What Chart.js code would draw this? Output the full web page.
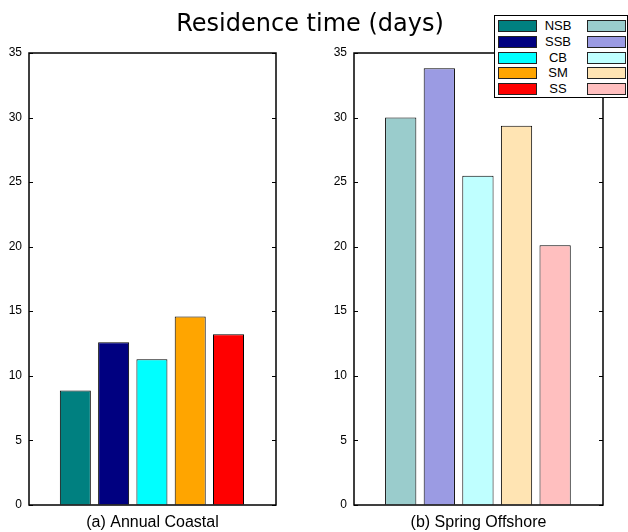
<!DOCTYPE html>
<html>
<head>
<meta charset="utf-8">
<script src="https://cdn.jsdelivr.net/npm/chart.js@4/dist/chart.umd.min.js"></script>
<style>
  html, body { margin: 0; padding: 0; background: #fff; }
  #wrap { position: relative; width: 628px; height: 532px; overflow: hidden; font-family: "Liberation Sans", Arial, sans-serif; }
  canvas { position: absolute; top: 0; }
  #title { position: absolute; left: 0; width: 620px; top: 9px; text-align: center;
           font-family: "DejaVu Sans", sans-serif; font-size: 24px; color: #000; }
  #legend { position: absolute; left: 494px; top: 15px; width: 132px; height: 81px;
            border: 1px solid #000; background: #fff; }
  .sw { position: absolute; width: 37px; height: 10px; border: 1px solid #222; }
  .lt { position: absolute; width: 40px; text-align: center; font-size: 13px; line-height: 14px; }
</style>
</head>
<body>
<div id="wrap">
  <canvas id="coastal" width="290" height="532" style="left:0"></canvas>
  <canvas id="offshore" width="303" height="532" style="left:325px"></canvas>
  <div id="title">Residence time (days)</div>
  <div id="legend"></div>
</div>
<script>
// regions, same order in both panels
const regions = ['NSB', 'SSB', 'CB', 'SM', 'SS'];
const annualCoastal = [8.85, 12.6, 11.28, 14.58, 13.22];
const springOffshore = [30.0, 33.82, 25.5, 29.37, 20.11];
const yTicks = [0, 5, 10, 15, 20, 25, 30, 35];

const annualColors = ['#008080', '#000080', '#00ffff', '#ffa500', '#ff0000'];
const springColors = ['#9acccc', '#9b9be3', '#bfffff', '#ffe4b3', '#ffbfbf'];

// matlab-ish box with inward ticks on both sides
const boxPlugin = {
  id: 'box',
  afterDatasetsDraw(chart) {
    const { ctx, chartArea: a, scales: { y } } = chart;
    ctx.save();
    ctx.strokeStyle = '#000';
    ctx.lineWidth = 1.5;
    ctx.strokeRect(Math.round(a.left), Math.round(a.top), Math.round(a.width), Math.round(a.height));
    ctx.lineWidth = 1;
    ctx.beginPath();
    y.ticks.forEach((t, i) => {
      const py = Math.round(y.getPixelForTick(i)) + 0.5;
      ctx.moveTo(a.left, py);
      ctx.lineTo(a.left + 4, py);
      ctx.moveTo(a.right, py);
      ctx.lineTo(a.right - 4, py);
    });
    ctx.stroke();
    ctx.restore();
  }
};

function makeChart(id, values, colors, label, padRight) {
  const ctx = document.getElementById(id).getContext('2d');
  return new Chart(ctx, {
    type: 'bar',
    data: {
      datasets: [{
        data: values.map((v, i) => ({ x: i + 1, y: v })),
        backgroundColor: colors,
        borderColor: '#000',
        borderWidth: 1,
        barPercentage: 0.81,
        categoryPercentage: 1
      }]
    },
    options: {
      responsive: false,
      animation: false,
      devicePixelRatio: 1,
      layout: { padding: { top: 53, right: padRight, left: 0, bottom: 0 } },
      plugins: { legend: { display: false }, tooltip: { enabled: false } },
      scales: {
        x: {
          type: 'linear',
          min: -0.21,
          max: 6.24,
          offset: false,
          grid: { display: false, drawTicks: false },
          border: { display: false },
          ticks: { display: false },
          title: {
            display: true,
            text: label,
            color: '#000',
            font: { family: '"Liberation Sans", Arial, sans-serif', size: 16 },
            padding: { top: 8, bottom: 0 }
          }
        },
        y: {
          min: 0,
          max: 35,
          grid: { display: false, drawTicks: false },
          border: { display: false },
          afterBuildTicks: scale => { scale.ticks = yTicks.map(v => ({ value: v })); },
          afterFit: scale => { scale.width = 29; },
          ticks: {
            color: '#000',
            padding: 7,
            font: { family: '"Liberation Sans", Arial, sans-serif', size: 12 }
          }
        }
      }
    },
    plugins: [boxPlugin]
  });
}

makeChart('coastal', annualCoastal, annualColors, '(a) Annual Coastal', 14);
makeChart('offshore', springOffshore, springColors, '(b) Spring Offshore', 25);

// two-column legend: annual swatch, name, spring swatch
const legend = document.getElementById('legend');
regions.forEach((name, i) => {
  const cy = 10 + i * 15.75;
  const a = document.createElement('div');
  a.className = 'sw';
  a.style.left = '3px';
  a.style.top = (cy - 6) + 'px';
  a.style.background = annualColors[i];
  legend.appendChild(a);

  const t = document.createElement('div');
  t.className = 'lt';
  t.style.left = '43px';
  t.style.top = (cy - 7) + 'px';
  t.textContent = name;
  legend.appendChild(t);

  const b = document.createElement('div');
  b.className = 'sw';
  b.style.left = '92px';
  b.style.top = (cy - 6) + 'px';
  b.style.background = springColors[i];
  legend.appendChild(b);
});
</script>
</body>
</html>
